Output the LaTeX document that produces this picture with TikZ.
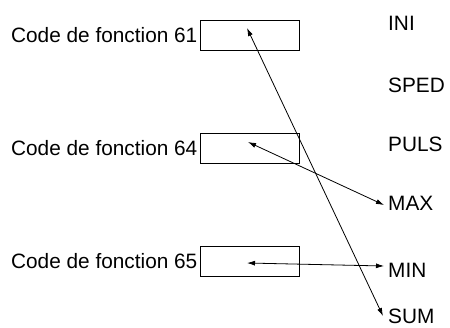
\documentclass[tikz,border=0pt]{standalone}
\usepackage{fontspec}
\setmainfont{Liberation Sans}
\usetikzlibrary{arrows.meta}
\begin{document}
\begin{tikzpicture}[x=1pt,y=-1pt,
  font=\fontsize{20.8}{24}\selectfont,
  codebox/.style={draw=black, line width=0.9pt, minimum width=99pt, minimum height=30pt, inner sep=0pt},
  codelabel/.style={anchor=east, inner sep=2pt},
  keylabel/.style={anchor=west, inner sep=0pt},
  link/.style={line width=0.8pt, {Latex[length=8pt,width=5pt]}-{Latex[length=8pt,width=5pt]}}]
\useasboundingbox (0,0) rectangle (450,327);
\node[codebox] (b1) at (249.5,35) {};
\node[codebox] (b2) at (249.5,148) {};
\node[codebox] (b3) at (249.5,261.5) {};
\node[codelabel] (l1) at (b1.west) {Code de fonction 61};
\node[codelabel] (l2) at (b2.west) {Code de fonction 64};
\node[codelabel] (l3) at (b3.west) {Code de fonction 65};
\node[keylabel] (ini) at (388,23) {INI};
\node[keylabel] (sped) at (388,85) {SPED};
\node[keylabel] (puls) at (388,144) {PULS};
\node[keylabel] (max) at (388,203) {MAX};
\node[keylabel] (min) at (388,270) {MIN};
\node[keylabel] (sum) at (388,316) {SUM};
\coordinate (p1) at (247,28);
\coordinate (p2) at (248,142);
\coordinate (p3) at (247,263);
\coordinate (e1) at (383,316);
\coordinate (e2) at (384,205);
\coordinate (e3) at (384,266);
\draw[link] (p1) -- (e1);
\draw[link] (p2) -- (e2);
\draw[link] (p3) -- (e3);
\end{tikzpicture}
\end{document}
